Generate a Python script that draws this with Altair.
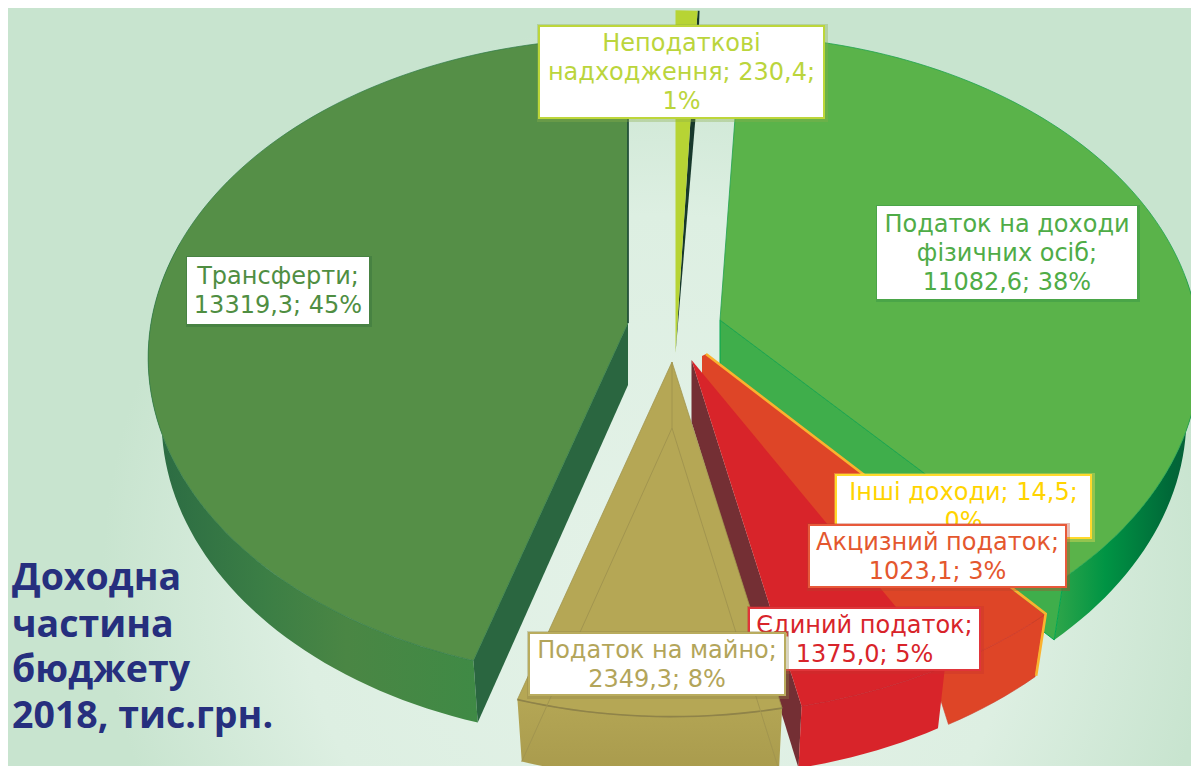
import math
import altair as alt
import pandas as pd

# ---- values
categories = ["Неподаткові надходження", "Податок на доходи фізичних осіб", "Інші доходи",
              "Акцизний податок", "Єдиний податок", "Податок на майно", "Трансферти"]
values = [230.4, 11082.6, 14.5, 1023.1, 1375.0, 2349.3, 13319.3]
label_texts = ["Неподаткові\nнадходження; 230,4;\n1%",
               "Податок на доходи\nфізичних осіб;\n11082,6; 38%",
               "Інші доходи; 14,5;\n0%",
               "Акцизний податок;\n1023,1; 3%",
               "Єдиний податок;\n1375,0; 5%",
               "Податок на майно;\n2349,3; 8%",
               "Трансферти;\n13319,3; 45%"]
title_lines = ["Доходна", "частина", "бюджету", "2018, тис.грн."]

# ---- styling and layout (image pixels)
L, T, W, H = 8, 8, 1191, 766
DEPTH = 62
KP = 0.109
RY = 316
RX = 477
LH = 29
apex = {"nt": (675.5, 353), "pit": (720, 320), "oth": (706, 354), "exc": (702, 356),
        "sgl": (691.5, 360), "prop": (672, 362), "tr": (628, 323)}
total = sum(values)
edges = [0]
for v in values:
    edges.append(edges[-1] + v / total * 360)
ang = {k: (edges[i], edges[i + 1]) for i, k in enumerate(["nt", "pit", "oth", "exc", "sgl", "prop", "tr"])}


def rim(key, th, bottom=False, rx=RX, ry=RY):
    ax, ay = apex[key]
    t = math.radians(th)
    u, v = math.sin(t), -math.cos(t)
    s = 1 / (1 - KP * v)
    if bottom:
        return [ax + rx * u * s * 0.972, ay + DEPTH + ry * v * s]
    return [ax + rx * u * s, ay + ry * v * s]


def arc(key, a, b, bottom=False, rx=RX, ry=RY):
    n = max(2, int(abs(b - a) / 1.5))
    return [rim(key, a + (b - a) * i / n, bottom, rx, ry) for i in range(n + 1)]


PROJ = alt.Projection(type="identity", scale=1, translate=[-L, -T])


def poly(points, fill, stroke=None, sw=0.0, opacity=1.0):
    ring = [list(p) for p in points] + [list(points[0])]
    data = alt.Data(values=[{"type": "Feature", "properties": {},
                             "geometry": {"type": "Polygon", "coordinates": [ring]}}])
    kw = dict(fill=fill, opacity=opacity)
    if stroke:
        kw.update(stroke=stroke, strokeWidth=sw)
    else:
        kw.update(strokeWidth=0)
    return alt.Chart(data).mark_geoshape(**kw).project(**PROJ.to_dict())


def line(points, stroke, sw=1.0):
    data = alt.Data(values=[{"type": "Feature", "properties": {},
                             "geometry": {"type": "LineString", "coordinates": [list(p) for p in points]}}])
    return alt.Chart(data).mark_geoshape(filled=False, fill="transparent", stroke=stroke, strokeWidth=sw).project(**PROJ.to_dict())


def hgrad(stops):
    return alt.LinearGradient(gradient="linear", x1=0, x2=1, y1=0, y2=0,
                              stops=[alt.GradientStop(color=c, offset=o) for o, c in stops])


def bottom_apex(k):
    return [apex[k][0], apex[k][1] + DEPTH]


layers = []

# background
bg = pd.DataFrame({"x": [L], "x2": [W], "y": [T], "y2": [H]})
xs = alt.Scale(domain=[L, W], nice=False, zero=False)
ys = alt.Scale(domain=[H, T], nice=False, zero=False)
layers.append(alt.Chart(bg).mark_rect(
    fill=alt.RadialGradient(gradient="radial", x1=0.55, y1=0.66, r1=0.0, x2=0.55, y2=0.66, r2=0.47,
                            stops=[alt.GradientStop(color="#E4F2E8", offset=0),
                                   alt.GradientStop(color="#DDEFE2", offset=0.65),
                                   alt.GradientStop(color="#C8E4CF", offset=1)])
).encode(x=alt.X("x:Q", scale=xs, axis=None), x2="x2:Q", y=alt.Y("y:Q", scale=ys, axis=None), y2="y2:Q"))

# Трансферти
a, b = ang["tr"]
layers.append(poly(arc("tr", a, 285) + arc("tr", 285, a, True),
                   hgrad([(0, "#2A6A43"), (0.35, "#3B7E45"), (0.6, "#4A8644"), (1, "#3F8A45")])))
layers.append(poly([apex["tr"], rim("tr", a), rim("tr", a, True), bottom_apex("tr")], "#2A6640"))
layers.append(poly([apex["tr"]] + arc("tr", a, b), "#558F47", "#2F7A48", 0.7))
layers.append(line([apex["tr"], rim("tr", b)], "#1F4A35", 1.6))

# Податок на доходи
a, b = ang["pit"]
layers.append(poly(arc("pit", 82, b) + arc("pit", b, 82, True),
                   hgrad([(0, "#2FA64A"), (0.35, "#009444"), (0.8, "#006838"), (1, "#0A5A38")])))
layers.append(poly([apex["pit"], rim("pit", b), rim("pit", b, True), bottom_apex("pit")], "#3FAE4B", "#00A651", 1))
layers.append(poly([apex["pit"]] + arc("pit", a, b), "#5AB34A", "#1FA24F", 0.8))

# Неподаткові
a, b = ang["nt"]
c = rim("nt", b, rx=497, ry=380)
layers.append(poly([apex["nt"], c, [c[0] + 2, c[1]], [695.5, 118]], "#17382B"))
layers.append(poly([apex["nt"]] + arc("nt", a, b, rx=497, ry=380), "#B7D434"))

# Акцизний (top face runs on under the neighbour)
a, b = ang["exc"]
ex_inner = [apex["exc"][0], apex["exc"][1] + 22]
layers.append(poly(arc("exc", a, b + 3) + arc("exc", b, a, True), "#DE4527", "#CE3A28", 0.6))
layers.append(poly([apex["exc"], apex["oth"]] + arc("exc", a, b + 3) + [ex_inner], "#DE4527"))
layers.append(line(arc("exc", a, b + 3), "#CE3A28", 0.8))

# Інші доходи
ax = rim("exc", ang["exc"][0])
axb = rim("exc", ang["exc"][0], True)
layers.append(line([apex["oth"], [ax[0] + 1, ax[1] - 1], [axb[0] + 1, axb[1] - 1]], "#FBB22E", 2.6))

# Єдиний
a, b = ang["sgl"]
layers.append(poly([apex["sgl"], rim("sgl", b), rim("sgl", b, True), bottom_apex("sgl")], "#742F34"))
layers.append(poly(arc("sgl", a, b) + arc("sgl", b, a, True), "#D8242A"))
layers.append(poly([apex["sgl"]] + arc("sgl", a, b), "#D8242A"))
layers.append(line(arc("sgl", a, b), "#C42229", 0.8))

# Податок на майно
a, b = ang["prop"]
layers.append(poly(arc("prop", a, b) + arc("prop", b, a, True),
                   alt.LinearGradient(gradient="linear", x1=0, x2=0, y1=0, y2=1,
                                      stops=[alt.GradientStop(color="#B4A655", offset=0),
                                             alt.GradientStop(color="#A89A4C", offset=1)])))
layers.append(poly([apex["prop"]] + arc("prop", a, b), "#B5A755", "#A2954F", 0.8))
layers.append(line(arc("prop", a, b), "#8F8349", 1.6))
inner = [apex["prop"][0], apex["prop"][1] + DEPTH + 4]
layers.append(line([apex["prop"], inner], "#A2954F", 1))
layers.append(line([rim("prop", a, True), inner, rim("prop", b, True)], "#A2954F", 1))

# label boxes: x0, y0, x1, y1
boxes = pd.DataFrame({
    "x": [539, 878, 836, 809, 749, 529, 188],
    "x2": [824, 1136, 1091, 1066, 980, 785, 368],
    "y": [26, 207, 475, 525, 608, 633, 258],
    "y2": [118, 298, 538, 587, 670, 695, 323],
    "border": ["#BDD63A", "#FFFFFF", "#FFD92B", "#E8593A", "#E0353A", "#B9AC5E", "#FFFFFF"],
    "txt": ["#BBD53C", "#4FAC47", "#FFD400", "#E4572E", "#D8242A", "#B3A55A", "#4F8E42"],
    "glow": ["#8DAF4A", "#2E8B45", "#FFE65A", "#B8432C", "#C8302F", "#8E8449", "#2F6B3A"],
    "label": label_texts,
})
boxes["n"] = [t.count("\n") for t in label_texts]
boxes["cx"] = (boxes.x + boxes.x2) / 2
boxes["cy"] = (boxes.y + boxes.y2) / 2 + 1 - boxes.n * LH / 2
# the two-line "Інші доходи" label sits high in its box, with 0% running under the next label
boxes.loc[2, "cy"] = boxes.loc[2, "y"] + 18
boxes["sx"] = boxes.x - 2
boxes["sx2"] = boxes.x2 + 4
boxes["sy"] = boxes.y - 2
boxes["sy2"] = boxes.y2 + 4

order = [0, 1, 6, 2, 3, 4, 5]
X = alt.X("x:Q", scale=xs, axis=None)
Y = alt.Y("y:Q", scale=ys, axis=None)
for i in order:
    row = boxes.iloc[[i]]
    layers.append(alt.Chart(row).mark_rect(opacity=0.35).encode(
        x=alt.X("sx:Q", scale=xs, axis=None), x2="sx2:Q", y=alt.Y("sy:Q", scale=ys, axis=None), y2="sy2:Q",
        color=alt.Color("glow:N", scale=None)))
    layers.append(alt.Chart(row).mark_rect(fill="white", strokeWidth=2).encode(
        x=X, x2="x2:Q", y=Y, y2="y2:Q", stroke=alt.Stroke("border:N", scale=None)))
    layers.append(alt.Chart(row).mark_text(font="DejaVu Sans", fontSize=24, lineBreak="\n", lineHeight=LH,
                                           align="center", baseline="middle").encode(
        x=alt.X("cx:Q", scale=xs, axis=None), y=alt.Y("cy:Q", scale=ys, axis=None),
        text="label:N", color=alt.Color("txt:N", scale=None)))

# title
title_df = pd.DataFrame({"t": title_lines, "x": [12] * 4, "y": [590, 637, 682, 728]})
layers.append(alt.Chart(title_df).mark_text(font="Open Sans", fontWeight="bold", fontSize=37.5, align="left",
                                            baseline="alphabetic", color="#262F7E").encode(
    x=X, y=Y, text="t:N"))

chart = alt.layer(*layers).properties(
    width=W - L, height=H - T, padding=0, autosize=alt.AutoSizeParams(type="none")
).configure_view(strokeWidth=0)

chart.save("out.html", embed_options={"renderer": "svg", "actions": False})
